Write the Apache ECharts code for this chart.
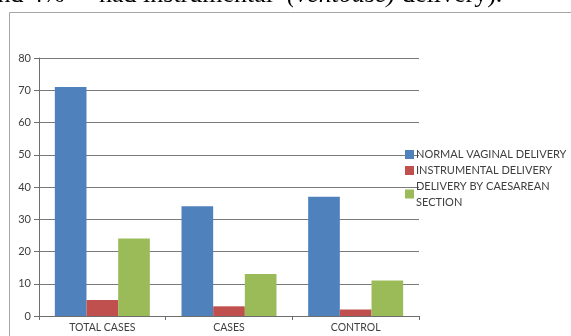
<!DOCTYPE html>
<html>
<head>
<meta charset="utf-8">
<script src="https://cdn.jsdelivr.net/npm/echarts@6/dist/echarts.min.js"></script>
<style>
    html, body { margin: 0; padding: 0; background: #fff; }
    #chart { width: 571px; height: 336px; }
</style>
</head>
<body>
<div id="chart"></div>
<script>
    // categories and values
    var categories = ['TOTAL CASES', 'CASES', 'CONTROL'];
    var normalVaginal = [71, 34, 37];
    var instrumental = [5, 3, 2];
    var caesarean = [24, 13, 11];
    var yTicks = [0, 10, 20, 30, 40, 50, 60, 70, 80];

    var seriesNames = ['NORMAL VAGINAL DELIVERY', 'INSTRUMENTAL DELIVERY', 'DELIVERY BY CAESAREAN\nSECTION'];
    var colors = ['#4F81BD', '#C0504D', '#9BBB59'];
    var fontFamily = 'Lato, "Open Sans", sans-serif';

    // cut-off line of body text above the figure
    var headerWords = [
        { text: 'and 4%', x: -14, italic: false },
        { text: 'had instrumental', x: 99, italic: false },
        { text: '(ventouse)', x: 287, italic: true },
        { text: 'delivery).', x: 402, italic: false }
    ];

    var chart = echarts.init(document.getElementById('chart'));

    var legendBase = {
        orient: 'vertical',
        left: 400,
        padding: 5,
        itemWidth: 9,
        itemHeight: 9,
        itemGap: 1,
        icon: 'rect',
        selectedMode: false,
        textStyle: { fontFamily: fontFamily, fontSize: 11, color: '#404040', padding: [0, 0, 0, -3], lineHeight: 15 }
    };

    var graphics = headerWords.map(function (w) {
        return {
            type: 'text',
            left: w.x,
            top: -18,
            style: {
                text: w.text,
                font: (w.italic ? 'italic ' : '') + '26px "Liberation Serif", serif',
                fill: '#000'
            }
        };
    });
    graphics.push({
        type: 'rect',
        shape: { x: 9.5, y: 12.5, width: 700, height: 400 },
        style: { fill: 'none', stroke: '#a6a6a6', lineWidth: 1 },
        z: -1
    });

    var option = {
        animation: false,
        color: colors,
        graphic: graphics,
        legend: [
            Object.assign({}, legendBase, { top: 142, data: [seriesNames[0], seriesNames[1]] }),
            Object.assign({}, legendBase, {
                top: 173,
                data: [seriesNames[2]],
                textStyle: Object.assign({}, legendBase.textStyle, { lineHeight: 16 })
            })
        ],
        grid: { left: 39, right: 152, top: 58, bottom: 20, containLabel: false },
        xAxis: {
            type: 'category',
            data: categories,
            axisLine: { lineStyle: { color: '#6e6e6e', width: 1 } },
            axisTick: { show: true, length: 4, lineStyle: { color: '#6e6e6e' } },
            axisLabel: { fontFamily: fontFamily, fontSize: 10.5, color: '#404040', margin: 6 }
        },
        yAxis: {
            type: 'value',
            min: yTicks[0],
            max: yTicks[yTicks.length - 1],
            interval: 10,
            axisLine: { show: true, lineStyle: { color: '#6e6e6e', width: 1 } },
            axisTick: { show: true, length: 5, lineStyle: { color: '#6e6e6e' } },
            axisLabel: { fontFamily: fontFamily, fontSize: 11, color: '#404040', margin: 8 },
            splitLine: { lineStyle: { color: '#7a7a7a', width: 1 } }
        },
        series: [
            { name: seriesNames[0], type: 'bar', data: normalVaginal, barGap: '0%', barCategoryGap: '25%' },
            { name: seriesNames[1], type: 'bar', data: instrumental, barGap: '0%', barCategoryGap: '25%' },
            { name: seriesNames[2], type: 'bar', data: caesarean, barGap: '0%', barCategoryGap: '25%' }
        ]
    };

    chart.setOption(option);
</script>
</body>
</html>
